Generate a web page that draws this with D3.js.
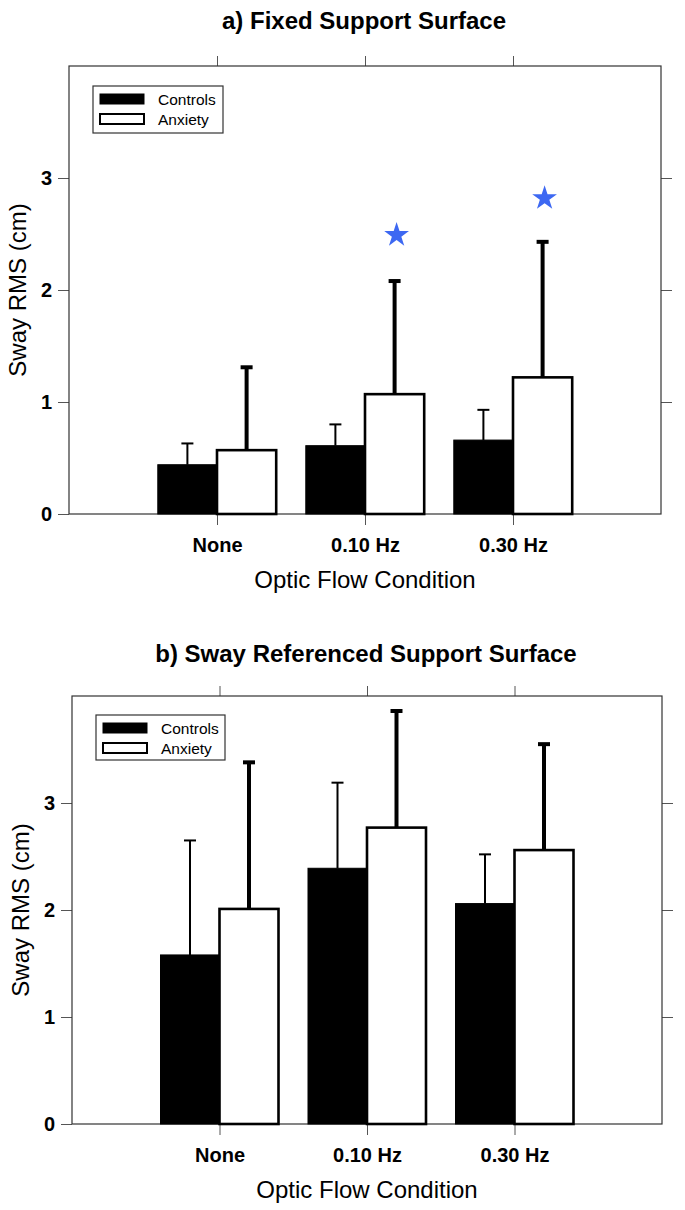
<!DOCTYPE html>
<html><head><meta charset="utf-8">
<script src="https://cdn.jsdelivr.net/npm/d3@7"></script>
<style>
html,body{margin:0;padding:0;background:#fff;}
svg{display:block;font-family:"Liberation Sans",Arial,sans-serif;}
</style></head>
<body>
<svg id="chart" width="685" height="1210"></svg>
<script>
// ---- data ----
const categories = ["None", "0.10 Hz", "0.30 Hz"];
const seriesNames = ["Controls", "Anxiety"];
const yTicks = [0, 1, 2, 3];

// a) Fixed support surface
const fixedControls = [0.44, 0.61, 0.66];
const fixedControlsSD = [0.19, 0.19, 0.27];
const fixedAnxiety = [0.57, 1.07, 1.22];
const fixedAnxietySD = [0.74, 1.01, 1.21];
const fixedStars = [null, 2.49, 2.82];

// b) Sway referenced support surface
const swayControls = [1.58, 2.39, 2.06];
const swayControlsSD = [1.07, 0.80, 0.46];
const swayAnxiety = [2.01, 2.77, 2.56];
const swayAnxietySD = [1.37, 1.09, 0.99];
const swayStars = [null, null, null];

const titles = ["a) Fixed Support Surface", "b) Sway Referenced Support Surface"];
const xTitle = "Optic Flow Condition";
const yTitle = "Sway RMS (cm)";

const svg = d3.select("#chart");

function panel(cfg) {
  const {left, right, top, bottom, title, titleY, controls, controlsSD, anxiety, anxietySD, stars, legend} = cfg;
  const g = svg.append("g");
  const x = d3.scaleLinear().domain([0, categories.length + 1]).range([left, right]);
  const y = d3.scaleLinear().domain([0, 4]).range([bottom, top]);
  const bw = 0.4;

  // title
  g.append("text").attr("x", (left + right) / 2 - 1).attr("y", titleY)
    .attr("text-anchor", "middle").attr("font-weight", "bold").attr("font-size", 24)
    .text(title);

  // ticks
  const tickStyle = sel => { sel.select(".domain").remove(); sel.selectAll("line").attr("stroke", "#555"); };
  g.append("g").attr("transform", `translate(${left},0)`)
    .call(d3.axisLeft(y).tickValues(yTicks).tickSize(11).tickPadding(6).tickFormat(d3.format("d")))
    .call(tickStyle)
    .call(s => s.selectAll("text").attr("font-size", 20).attr("font-weight", "bold").attr("fill", "#000")
      .attr("font-family", "Liberation Sans, Arial, sans-serif"));
  g.append("g").attr("transform", `translate(${right},0)`)
    .call(d3.axisRight(y).tickValues(yTicks.filter(d => d > 0)).tickSize(11).tickFormat(""))
    .call(tickStyle);
  const catPos = categories.map((c, i) => i + 1);
  g.append("g").attr("transform", `translate(0,${top})`)
    .call(d3.axisTop(x).tickValues(catPos).tickSize(10).tickFormat(""))
    .call(tickStyle);
  g.append("g").attr("transform", `translate(0,${bottom})`)
    .call(d3.axisBottom(x).tickValues(catPos).tickSize(11).tickPadding(13).tickFormat((d, i) => categories[i]))
    .call(tickStyle)
    .call(s => s.selectAll("text").attr("font-size", 20).attr("font-weight", "bold").attr("fill", "#000")
      .attr("font-family", "Liberation Sans, Arial, sans-serif"));

  // frame
  g.append("rect").attr("x", left).attr("y", top).attr("width", right - left).attr("height", bottom - top)
    .attr("fill", "none").attr("stroke", "#333").attr("stroke-width", 1.2);

  // bars
  const pos = categories.map((c, i) => i + 1);
  g.selectAll(".ctrl").data(controls).join("rect")
    .attr("x", (d, i) => x(pos[i] - bw)).attr("width", x(bw) - x(0))
    .attr("y", d => y(d)).attr("height", d => y(0) - y(d))
    .attr("fill", "#000").attr("stroke", "#000").attr("stroke-width", 1);
  g.selectAll(".anx").data(anxiety).join("rect")
    .attr("x", (d, i) => x(pos[i])).attr("width", x(bw) - x(0))
    .attr("y", d => y(d)).attr("height", d => y(0) - y(d))
    .attr("fill", "#fff").attr("stroke", "#000").attr("stroke-width", 2.6);

  // error bars
  function errBars(vals, sds, offset, lw) {
    vals.forEach((v, i) => {
      const cx = x(pos[i] + offset);
      g.append("line").attr("x1", cx).attr("x2", cx).attr("y1", y(v)).attr("y2", y(v + sds[i]))
        .attr("stroke", "#000").attr("stroke-width", lw);
      g.append("line").attr("x1", cx - 6).attr("x2", cx + 6).attr("y1", y(v + sds[i])).attr("y2", y(v + sds[i]))
        .attr("stroke", "#000").attr("stroke-width", lw);
    });
  }
  errBars(controls, controlsSD, -bw / 2, 2);
  errBars(anxiety, anxietySD, bw / 2, 4);

  // stars
  stars.forEach((s, i) => {
    if (s == null) return;
    g.append("path").attr("d", d3.symbol(d3.symbolStar, 190)())
      .attr("transform", `translate(${x(pos[i] + bw / 2) + 2},${y(s)})`)
      .attr("fill", "#3d68f2");
  });

  // axis titles
  g.append("text").attr("x", (left + right) / 2).attr("y", bottom + 74)
    .attr("text-anchor", "middle").attr("font-size", 24).text(xTitle);
  g.append("text").attr("transform", `translate(${left - 43},${(top + bottom) / 2}) rotate(-90)`)
    .attr("text-anchor", "middle").attr("font-size", 24).text(yTitle);

  // legend
  const L = legend;
  g.append("rect").attr("x", L.x).attr("y", L.y).attr("width", L.w).attr("height", L.h)
    .attr("fill", "#fff").attr("stroke", "#333").attr("stroke-width", 1.2);
  seriesNames.forEach((n, i) => {
    const yy = L.y + 8 + i * L.row;
    g.append("rect").attr("x", L.x + 7).attr("y", yy).attr("width", 44).attr("height", 10)
      .attr("fill", i === 0 ? "#000" : "#fff").attr("stroke", "#000").attr("stroke-width", i === 0 ? 1 : 2);
    g.append("text").attr("x", L.x + 65).attr("y", yy + 11).attr("font-size", 15.5).text(n);
  });
}

panel({left: 69, right: 661, top: 66, bottom: 514, title: titles[0], titleY: 29,
  controls: fixedControls, controlsSD: fixedControlsSD, anxiety: fixedAnxiety, anxietySD: fixedAnxietySD,
  stars: fixedStars, legend: {x: 93, y: 86, w: 130, h: 47, row: 20}});
panel({left: 72, right: 662, top: 696, bottom: 1124, title: titles[1], titleY: 662,
  controls: swayControls, controlsSD: swayControlsSD, anxiety: swayAnxiety, anxietySD: swayAnxietySD,
  stars: swayStars, legend: {x: 96, y: 715, w: 129, h: 45, row: 20}});
</script>
</body></html>
